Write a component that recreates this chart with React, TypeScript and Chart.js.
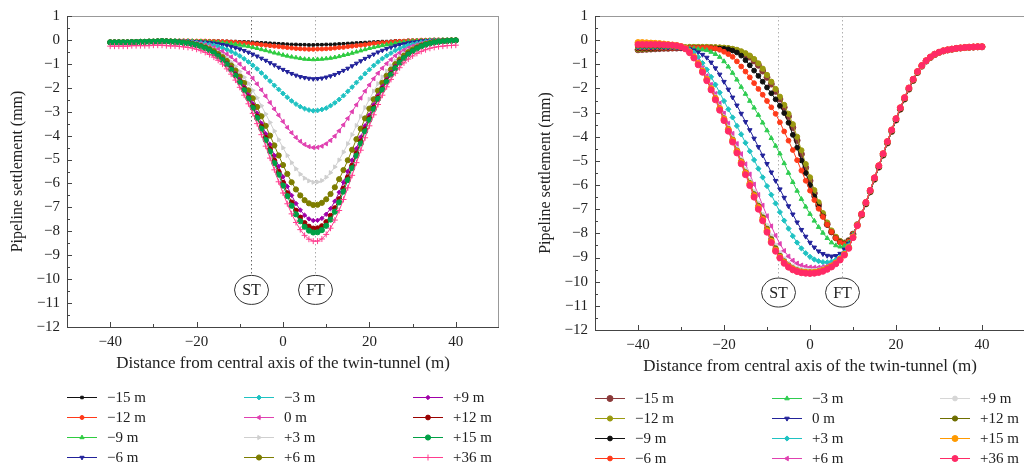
import React, { useEffect, useRef } from 'react';
import { Chart, registerables } from 'chart.js';
import { drawPoint } from 'chart.js/helpers';

Chart.register(...registerables);

const FONT = "'Liberation Serif', 'Times New Roman', serif";

// ---------------- data ----------------
const DISTANCES = [
  -40, -39, -38, -37, -36, -35, -34, -33, -32, -31, -30, -29, -28, -27, -26, -25, -24, -23, -22, -21,
  -20, -19, -18, -17, -16, -15, -14, -13, -12, -11, -10, -9, -8, -7, -6, -5, -4, -3, -2, -1,
  0, 1, 2, 3, 4, 5, 6, 7, 8, 9, 10, 11, 12, 13, 14, 15, 16, 17, 18, 19,
  20, 21, 22, 23, 24, 25, 26, 27, 28, 29, 30, 31, 32, 33, 34, 35, 36, 37, 38, 39, 40,
];

const SERIES_LABELS = ['−15 m', '−12 m', '−9 m', '−6 m', '−3 m', '0 m', '+3 m', '+6 m', '+9 m', '+12 m', '+15 m', '+36 m'];

const X_TICKS = [-40, -20, 0, 20, 40];
const X_MINOR_TICKS = [-30, -10, 10, 30];
const Y_TICKS = [1, 0, -1, -2, -3, -4, -5, -6, -7, -8, -9, -10, -11, -12];
const TUNNEL_AXES = [-7.5, 7.5];
const TUNNEL_NAMES = ['ST', 'FT'];

// Left panel series
const L_M15 = [
  -0.10, -0.10, -0.10, -0.10, -0.10, -0.09, -0.09, -0.08, -0.08, -0.07, -0.07, -0.06, -0.05,
  -0.04, -0.04, -0.04, -0.04, -0.04, -0.04, -0.04, -0.04, -0.05, -0.05,
  -0.05, -0.05, -0.05, -0.06, -0.06, -0.07, -0.07, -0.08, -0.08, -0.09,
  -0.10, -0.11, -0.12, -0.13, -0.14, -0.15, -0.16, -0.17, -0.18, -0.19,
  -0.19, -0.20, -0.20, -0.21, -0.21,
  -0.20, -0.20, -0.19, -0.19, -0.18, -0.17, -0.16, -0.15, -0.14, -0.13,
  -0.12, -0.11, -0.10, -0.09, -0.08, -0.07, -0.07, -0.06, -0.04, -0.04,
  -0.04, -0.02, -0.02, -0.02, -0.01, 0, 0, 0, 0, 0, 0, 0, 0,
];
const L_M12 = [
  -0.10, -0.10, -0.10, -0.10, -0.10, -0.09, -0.09, -0.08, -0.08, -0.07, -0.07, -0.06, -0.05,
  -0.04, -0.04, -0.04, -0.04, -0.04, -0.04, -0.05, -0.05, -0.05, -0.05,
  -0.06, -0.06, -0.07, -0.07, -0.08, -0.09, -0.10, -0.12, -0.13, -0.15,
  -0.16, -0.18, -0.20, -0.22, -0.24, -0.26, -0.28, -0.30, -0.32, -0.34,
  -0.36, -0.37, -0.38, -0.39, -0.39,
  -0.38, -0.38, -0.37, -0.36, -0.34, -0.32, -0.31, -0.28, -0.26, -0.24,
  -0.22, -0.20, -0.17, -0.15, -0.14, -0.12, -0.11, -0.09, -0.07, -0.06,
  -0.05, -0.04, -0.03, -0.03, -0.01, -0.01, -0.01, 0, 0, 0, 0, 0, 0,
];
const L_M9 = [
  -0.10, -0.10, -0.10, -0.10, -0.10, -0.09, -0.09, -0.08, -0.08, -0.07, -0.07, -0.06, -0.05,
  -0.04, -0.04, -0.04, -0.05, -0.05, -0.05, -0.05, -0.06, -0.06, -0.07,
  -0.08, -0.09, -0.10, -0.12, -0.14, -0.16, -0.18, -0.21, -0.24, -0.27,
  -0.31, -0.35, -0.40, -0.44, -0.49, -0.54, -0.58, -0.63, -0.67, -0.71,
  -0.74, -0.77, -0.80, -0.81, -0.82,
  -0.81, -0.80, -0.78, -0.76, -0.73, -0.69, -0.64, -0.60, -0.55, -0.50,
  -0.45, -0.40, -0.35, -0.31, -0.27, -0.23, -0.20, -0.17, -0.13, -0.11,
  -0.09, -0.07, -0.05, -0.04, -0.03, -0.02, -0.01, -0.01, -0.01, 0, 0, 0, 0,
];
const L_M6 = [
  -0.10, -0.10, -0.10, -0.10, -0.10, -0.09, -0.09, -0.08, -0.08, -0.07, -0.07, -0.06, -0.05,
  -0.04, -0.05, -0.05, -0.05, -0.06, -0.06, -0.07, -0.08, -0.09, -0.10,
  -0.12, -0.14, -0.17, -0.20, -0.23, -0.28, -0.33, -0.38, -0.45, -0.52,
  -0.60, -0.68, -0.77, -0.86, -0.96, -1.05, -1.15, -1.24, -1.33, -1.41,
  -1.48, -1.54, -1.58, -1.61, -1.63,
  -1.62, -1.60, -1.56, -1.51, -1.45, -1.37, -1.28, -1.19, -1.09, -0.98,
  -0.88, -0.78, -0.69, -0.60, -0.51, -0.44, -0.37, -0.31, -0.25, -0.20,
  -0.17, -0.13, -0.10, -0.08, -0.05, -0.04, -0.03, -0.02, -0.02, -0.01, -0.01, -0.01, 0,
];
const L_M3 = [
  -0.10, -0.10, -0.10, -0.10, -0.10, -0.09, -0.09, -0.08, -0.08, -0.07, -0.07, -0.06, -0.05,
  -0.05, -0.05, -0.05, -0.06, -0.07, -0.08, -0.09, -0.11, -0.13, -0.15,
  -0.19, -0.22, -0.27, -0.33, -0.40, -0.48, -0.57, -0.67, -0.79, -0.92,
  -1.06, -1.21, -1.38, -1.55, -1.72, -1.90, -2.07, -2.24, -2.40, -2.55,
  -2.68, -2.79, -2.87, -2.93, -2.96,
  -2.95, -2.91, -2.85, -2.75, -2.63, -2.49, -2.33, -2.15, -1.97, -1.78,
  -1.59, -1.41, -1.24, -1.07, -0.92, -0.78, -0.66, -0.55, -0.44, -0.36,
  -0.29, -0.22, -0.18, -0.14, -0.10, -0.07, -0.05, -0.04, -0.03, -0.02, -0.02, -0.01, -0.01,
];
const L_0 = [
  -0.10, -0.10, -0.10, -0.10, -0.10, -0.09, -0.09, -0.08, -0.08, -0.07, -0.07, -0.06, -0.05,
  -0.05, -0.06, -0.06, -0.07, -0.08, -0.10, -0.12, -0.14, -0.17, -0.21,
  -0.26, -0.32, -0.40, -0.48, -0.59, -0.71, -0.85, -1.01, -1.19, -1.38,
  -1.60, -1.84, -2.09, -2.35, -2.62, -2.89, -3.15, -3.41, -3.66, -3.88,
  -4.08, -4.24, -4.37, -4.46, -4.50,
  -4.49, -4.44, -4.34, -4.20, -4.02, -3.80, -3.55, -3.28, -3.00, -2.71,
  -2.43, -2.14, -1.88, -1.62, -1.39, -1.18, -0.99, -0.82, -0.66, -0.54,
  -0.43, -0.34, -0.26, -0.21, -0.15, -0.11, -0.08, -0.06, -0.05, -0.03, -0.02, -0.02, -0.01,
];
const L_P3 = [
  -0.10, -0.10, -0.10, -0.10, -0.10, -0.09, -0.09, -0.08, -0.08, -0.07, -0.07, -0.06, -0.05,
  -0.06, -0.06, -0.07, -0.08, -0.10, -0.12, -0.14, -0.17, -0.22, -0.27,
  -0.33, -0.41, -0.51, -0.63, -0.76, -0.92, -1.11, -1.32, -1.56, -1.82,
  -2.11, -2.42, -2.75, -3.10, -3.45, -3.81, -4.17, -4.51, -4.83, -5.13,
  -5.39, -5.61, -5.78, -5.89, -5.95,
  -5.94, -5.88, -5.74, -5.55, -5.31, -5.02, -4.69, -4.34, -3.96, -3.58,
  -3.20, -2.83, -2.48, -2.14, -1.83, -1.55, -1.30, -1.08, -0.87, -0.71,
  -0.57, -0.44, -0.35, -0.27, -0.20, -0.15, -0.11, -0.08, -0.06, -0.04, -0.03, -0.02, -0.01,
];
const L_P6 = [
  -0.10, -0.10, -0.10, -0.10, -0.10, -0.09, -0.09, -0.08, -0.08, -0.07, -0.07, -0.06, -0.05,
  -0.06, -0.07, -0.08, -0.09, -0.11, -0.13, -0.16, -0.20, -0.25, -0.31,
  -0.38, -0.47, -0.59, -0.72, -0.88, -1.07, -1.28, -1.53, -1.80, -2.11,
  -2.44, -2.80, -3.19, -3.59, -4.00, -4.41, -4.83, -5.23, -5.60, -5.95,
  -6.25, -6.50, -6.70, -6.83, -6.90,
  -6.89, -6.81, -6.66, -6.44, -6.16, -5.82, -5.44, -5.03, -4.59, -4.15,
  -3.71, -3.28, -2.87, -2.48, -2.12, -1.79, -1.50, -1.24, -1.01, -0.82,
  -0.66, -0.51, -0.40, -0.31, -0.23, -0.17, -0.13, -0.09, -0.07, -0.05, -0.04, -0.02, -0.02,
];
const L_P9 = [
  -0.10, -0.10, -0.10, -0.10, -0.10, -0.09, -0.09, -0.08, -0.08, -0.07, -0.07, -0.06, -0.05,
  -0.06, -0.07, -0.08, -0.09, -0.11, -0.14, -0.17, -0.21, -0.26, -0.33,
  -0.41, -0.52, -0.64, -0.79, -0.96, -1.16, -1.40, -1.67, -1.97, -2.30,
  -2.67, -3.06, -3.48, -3.92, -4.37, -4.83, -5.28, -5.72, -6.13, -6.50,
  -6.84, -7.11, -7.33, -7.48, -7.55,
  -7.54, -7.46, -7.29, -7.05, -6.74, -6.37, -5.95, -5.50, -5.03, -4.54,
  -4.06, -3.59, -3.14, -2.71, -2.32, -1.96, -1.64, -1.36, -1.10, -0.89,
  -0.72, -0.56, -0.44, -0.34, -0.25, -0.19, -0.14, -0.10, -0.08, -0.05, -0.04, -0.03, -0.02,
];
const L_P12 = [
  -0.10, -0.10, -0.10, -0.10, -0.10, -0.09, -0.09, -0.08, -0.08, -0.07, -0.07, -0.06, -0.05,
  -0.06, -0.07, -0.08, -0.10, -0.12, -0.14, -0.18, -0.22, -0.27, -0.34,
  -0.43, -0.54, -0.66, -0.82, -1.00, -1.21, -1.46, -1.74, -2.05, -2.40,
  -2.78, -3.20, -3.63, -4.09, -4.56, -5.04, -5.51, -5.97, -6.40, -6.79,
  -7.13, -7.42, -7.65, -7.80, -7.88,
  -7.87, -7.78, -7.61, -7.35, -7.03, -6.65, -6.21, -5.74, -5.25, -4.74,
  -4.24, -3.74, -3.27, -2.83, -2.42, -2.05, -1.71, -1.42, -1.15, -0.93,
  -0.75, -0.58, -0.46, -0.35, -0.26, -0.20, -0.15, -0.11, -0.08, -0.06, -0.04, -0.03, -0.02,
];
const L_P15 = [
  -0.10, -0.10, -0.10, -0.10, -0.10, -0.09, -0.09, -0.08, -0.08, -0.07, -0.07, -0.06, -0.05,
  -0.06, -0.07, -0.08, -0.10, -0.12, -0.14, -0.18, -0.22, -0.28, -0.35,
  -0.44, -0.55, -0.68, -0.83, -1.02, -1.24, -1.49, -1.77, -2.10, -2.45,
  -2.84, -3.26, -3.71, -4.18, -4.66, -5.15, -5.63, -6.09, -6.53, -6.93,
  -7.29, -7.58, -7.81, -7.97, -8.05,
  -8.04, -7.95, -7.77, -7.51, -7.18, -6.79, -6.34, -5.86, -5.36, -4.84,
  -4.33, -3.82, -3.34, -2.89, -2.47, -2.09, -1.75, -1.45, -1.18, -0.95,
  -0.76, -0.60, -0.47, -0.36, -0.27, -0.20, -0.15, -0.11, -0.08, -0.06, -0.04, -0.03, -0.02,
];
const L_P36 = [
  -0.26, -0.26, -0.26, -0.26, -0.26, -0.24, -0.24, -0.24, -0.24, -0.24, -0.22, -0.22, -0.22,
  -0.24, -0.25, -0.25, -0.27, -0.29, -0.31, -0.34, -0.39, -0.45, -0.52,
  -0.61, -0.72, -0.85, -1.01, -1.21, -1.43, -1.68, -1.98, -2.31, -2.67,
  -3.07, -3.50, -3.96, -4.44, -4.94, -5.43, -5.93, -6.40, -6.85, -7.27,
  -7.63, -7.93, -8.17, -8.33, -8.41,
  -8.41, -8.32, -8.13, -7.87, -7.53, -7.13, -6.67, -6.18, -5.66, -5.13,
  -4.61, -4.09, -3.59, -3.13, -2.70, -2.31, -1.96, -1.65, -1.39, -1.16,
  -0.96, -0.80, -0.67, -0.56, -0.48, -0.41, -0.35, -0.31, -0.28, -0.26, -0.24, -0.23, -0.22,
];

// Right panel series
const R_M15 = [
  -0.40, -0.39, -0.38, -0.37, -0.36,
  -0.35, -0.34, -0.34, -0.33, -0.33, -0.32, -0.32, -0.31, -0.31, -0.31,
  -0.31, -0.31, -0.31, -0.32, -0.33, -0.34, -0.36, -0.39, -0.44, -0.51,
  -0.60, -0.70, -0.86, -1.04, -1.28, -1.54, -1.82, -2.12, -2.44, -2.78,
  -3.16, -3.62, -4.15, -4.72, -5.28, -5.82, -6.34, -6.82, -7.25, -7.62,
  -7.94, -8.18, -8.34, -8.40, -8.30, -8.03, -7.64,
  -7.24, -6.78, -6.28, -5.76, -5.26, -4.76, -4.26, -3.78, -3.31, -2.86,
  -2.44, -2.03, -1.67, -1.34, -1.08, -0.87, -0.72, -0.60, -0.51, -0.45,
  -0.41, -0.38, -0.35, -0.33, -0.31, -0.30, -0.29, -0.28, -0.28,
];
const R_M12 = [
  -0.38, -0.37, -0.36, -0.35, -0.34,
  -0.33, -0.32, -0.31, -0.30, -0.30, -0.29, -0.29, -0.28, -0.28, -0.28,
  -0.28, -0.28, -0.29, -0.29, -0.30, -0.31, -0.33, -0.36, -0.40, -0.46,
  -0.54, -0.64, -0.78, -0.96, -1.18, -1.44, -1.72, -2.02, -2.34, -2.68,
  -3.05, -3.48, -4.00, -4.56, -5.13, -5.68, -6.21, -6.71, -7.16, -7.55,
  -7.88, -8.14, -8.32, -8.40, -8.31, -8.04, -7.64,
  -7.24, -6.78, -6.28, -5.76, -5.26, -4.76, -4.26, -3.78, -3.31, -2.86,
  -2.44, -2.03, -1.67, -1.34, -1.08, -0.87, -0.72, -0.60, -0.51, -0.45,
  -0.41, -0.38, -0.35, -0.33, -0.31, -0.30, -0.29, -0.28, -0.28,
];
const R_M9 = [
  -0.35, -0.35, -0.35, -0.35, -0.34,
  -0.34, -0.33, -0.33, -0.32, -0.32, -0.32, -0.32, -0.32, -0.32, -0.32,
  -0.32, -0.33, -0.33, -0.34, -0.35, -0.36, -0.38, -0.43, -0.51, -0.64,
  -0.83, -1.04, -1.26, -1.48, -1.72, -1.96, -2.20, -2.45, -2.72, -3.02,
  -3.42, -3.92, -4.45, -4.98, -5.50, -6.00, -6.47, -6.91, -7.30, -7.65,
  -7.95, -8.20, -8.36, -8.42, -8.32, -8.05, -7.65,
  -7.24, -6.78, -6.28, -5.76, -5.26, -4.76, -4.26, -3.78, -3.31, -2.86,
  -2.44, -2.03, -1.67, -1.34, -1.08, -0.87, -0.72, -0.60, -0.51, -0.45,
  -0.41, -0.38, -0.35, -0.33, -0.31, -0.30, -0.29, -0.28, -0.28,
];
const R_M6 = [
  -0.32, -0.32, -0.32, -0.32, -0.32,
  -0.32, -0.32, -0.32, -0.32, -0.32, -0.32, -0.32, -0.32, -0.32, -0.32,
  -0.32, -0.32, -0.33, -0.35, -0.40, -0.48, -0.58, -0.69, -0.88, -1.09,
  -1.30, -1.54, -1.78, -2.02, -2.26, -2.52, -2.78, -3.05, -3.40, -3.78,
  -4.16, -4.55, -4.97, -5.40, -5.82, -6.23, -6.62, -6.98, -7.32, -7.64,
  -7.94, -8.20, -8.38, -8.44, -8.34, -8.05, -7.65,
  -7.20, -6.72, -6.22, -5.70, -5.20, -4.70, -4.20, -3.72, -3.25, -2.80,
  -2.38, -1.98, -1.62, -1.30, -1.05, -0.85, -0.70, -0.58, -0.50, -0.44,
  -0.40, -0.37, -0.34, -0.32, -0.30, -0.29, -0.28, -0.27, -0.27,
];
const R_M3 = [
  -0.30, -0.30, -0.30, -0.30, -0.30,
  -0.30, -0.30, -0.30, -0.30, -0.31, -0.32, -0.33, -0.34, -0.35, -0.37,
  -0.39, -0.42, -0.49, -0.58, -0.70, -0.88, -1.10, -1.36, -1.64, -1.94,
  -2.23, -2.52, -2.80, -3.10, -3.42, -3.74, -4.06, -4.38, -4.70, -5.10,
  -5.50, -5.88, -6.24, -6.58, -6.90, -7.20, -7.48, -7.74, -7.98, -8.20,
  -8.38, -8.50, -8.55, -8.52, -8.38, -8.06, -7.65,
  -7.20, -6.72, -6.22, -5.70, -5.20, -4.70, -4.20, -3.72, -3.25, -2.80,
  -2.38, -1.98, -1.62, -1.30, -1.05, -0.85, -0.70, -0.58, -0.50, -0.44,
  -0.40, -0.37, -0.34, -0.32, -0.30, -0.29, -0.28, -0.27, -0.27,
];
const R_0 = [
  -0.30, -0.30, -0.30, -0.30, -0.30,
  -0.30, -0.30, -0.30, -0.30, -0.31, -0.32, -0.34, -0.37, -0.42, -0.50,
  -0.60, -0.72, -0.92, -1.16, -1.42, -1.72, -2.04, -2.37, -2.70, -3.04,
  -3.38, -3.72, -4.07, -4.42, -4.77, -5.12, -5.47, -5.82, -6.17, -6.52,
  -6.87, -7.21, -7.54, -7.85, -8.13, -8.38, -8.58, -8.74, -8.85, -8.92,
  -8.95, -8.93, -8.84, -8.66, -8.42, -8.07, -7.65,
  -7.20, -6.72, -6.22, -5.70, -5.20, -4.70, -4.20, -3.72, -3.25, -2.80,
  -2.38, -1.98, -1.62, -1.30, -1.05, -0.85, -0.70, -0.58, -0.50, -0.44,
  -0.40, -0.37, -0.34, -0.32, -0.30, -0.29, -0.28, -0.27, -0.27,
];
const R_P3 = [
  -0.25, -0.25, -0.25, -0.24, -0.24,
  -0.24, -0.24, -0.24, -0.25, -0.27, -0.30, -0.35, -0.42, -0.52, -0.70,
  -0.95, -1.22, -1.52, -1.84, -2.17, -2.52, -2.86, -3.20, -3.55, -3.90,
  -4.25, -4.60, -4.96, -5.32, -5.68, -6.04, -6.40, -6.76, -7.12, -7.47,
  -7.80, -8.11, -8.38, -8.62, -8.82, -8.97, -9.08, -9.15, -9.19, -9.20,
  -9.17, -9.10, -8.98, -8.80, -8.50, -8.10, -7.65,
  -7.20, -6.72, -6.22, -5.70, -5.20, -4.70, -4.20, -3.72, -3.25, -2.80,
  -2.38, -1.98, -1.62, -1.30, -1.05, -0.85, -0.70, -0.58, -0.50, -0.44,
  -0.40, -0.37, -0.34, -0.32, -0.30, -0.29, -0.28, -0.27, -0.27,
];
const R_P6 = [
  -0.20, -0.20, -0.20, -0.20, -0.20,
  -0.20, -0.20, -0.21, -0.22, -0.24, -0.28, -0.34, -0.46, -0.64, -0.88,
  -1.16, -1.48, -1.84, -2.22, -2.62, -3.03, -3.45, -3.87, -4.29, -4.71,
  -5.13, -5.55, -5.97, -6.40, -6.84, -7.28, -7.70, -8.09, -8.43, -8.72,
  -8.95, -9.12, -9.24, -9.32, -9.37, -9.40, -9.41, -9.41, -9.39, -9.35,
  -9.28, -9.18, -9.04, -8.85, -8.56, -8.12, -7.66,
  -7.20, -6.72, -6.22, -5.70, -5.20, -4.70, -4.20, -3.72, -3.25, -2.80,
  -2.38, -1.98, -1.62, -1.30, -1.05, -0.85, -0.70, -0.58, -0.50, -0.44,
  -0.40, -0.37, -0.34, -0.32, -0.30, -0.29, -0.28, -0.27, -0.27,
];
const R_P9 = [
  -0.16, -0.16, -0.17, -0.17, -0.18,
  -0.18, -0.19, -0.20, -0.21, -0.23, -0.27, -0.35, -0.50, -0.70, -0.96,
  -1.26, -1.60, -1.97, -2.36, -2.77, -3.19, -3.62, -4.06, -4.50, -4.94,
  -5.38, -5.83, -6.29, -6.76, -7.23, -7.69, -8.12, -8.50, -8.82, -9.07,
  -9.25, -9.37, -9.45, -9.50, -9.53, -9.55, -9.55, -9.53, -9.49, -9.42,
  -9.33, -9.20, -9.04, -8.84, -8.56, -8.12, -7.66,
  -7.20, -6.72, -6.22, -5.70, -5.20, -4.70, -4.20, -3.72, -3.25, -2.80,
  -2.38, -1.98, -1.62, -1.30, -1.05, -0.85, -0.70, -0.58, -0.50, -0.44,
  -0.40, -0.37, -0.34, -0.32, -0.30, -0.29, -0.28, -0.27, -0.27,
];
const R_P12 = [
  -0.22, -0.22, -0.22, -0.22, -0.22,
  -0.22, -0.22, -0.22, -0.23, -0.24, -0.27, -0.35, -0.50, -0.71, -0.98,
  -1.28, -1.62, -2.00, -2.40, -2.82, -3.24, -3.68, -4.12, -4.57, -5.02,
  -5.47, -5.92, -6.38, -6.86, -7.34, -7.81, -8.24, -8.62, -8.93, -9.16,
  -9.33, -9.45, -9.53, -9.58, -9.60, -9.61, -9.60, -9.57, -9.52, -9.44,
  -9.34, -9.21, -9.05, -8.85, -8.57, -8.13, -7.66,
  -7.20, -6.72, -6.22, -5.70, -5.20, -4.70, -4.20, -3.72, -3.25, -2.80,
  -2.38, -1.98, -1.62, -1.30, -1.05, -0.85, -0.70, -0.58, -0.50, -0.44,
  -0.40, -0.37, -0.34, -0.32, -0.30, -0.29, -0.28, -0.27, -0.27,
];
const R_P15 = [
  -0.10, -0.10, -0.11, -0.12, -0.13,
  -0.14, -0.16, -0.18, -0.20, -0.22, -0.26, -0.34, -0.49, -0.70, -0.97,
  -1.28, -1.63, -2.01, -2.42, -2.84, -3.27, -3.71, -4.16, -4.61, -5.06,
  -5.51, -5.96, -6.44, -6.93, -7.42, -7.89, -8.33, -8.70, -8.99, -9.21,
  -9.37, -9.48, -9.56, -9.60, -9.62, -9.63, -9.62, -9.59, -9.54, -9.46,
  -9.36, -9.23, -9.07, -8.87, -8.59, -8.15, -7.67,
  -7.20, -6.72, -6.22, -5.70, -5.20, -4.70, -4.20, -3.72, -3.25, -2.80,
  -2.38, -1.98, -1.62, -1.30, -1.05, -0.85, -0.70, -0.58, -0.50, -0.44,
  -0.40, -0.37, -0.34, -0.32, -0.30, -0.29, -0.28, -0.27, -0.27,
];
const R_P36 = [
  -0.18, -0.18, -0.18, -0.18, -0.18,
  -0.18, -0.19, -0.20, -0.21, -0.23, -0.27, -0.36, -0.52, -0.74, -1.02,
  -1.33, -1.68, -2.06, -2.47, -2.90, -3.33, -3.77, -4.22, -4.67, -5.12,
  -5.57, -6.02, -6.50, -7.00, -7.48, -7.95, -8.38, -8.74, -9.02, -9.24,
  -9.40, -9.51, -9.58, -9.63, -9.65, -9.66, -9.65, -9.62, -9.57, -9.49,
  -9.39, -9.26, -9.10, -8.90, -8.62, -8.18, -7.68,
  -7.20, -6.72, -6.22, -5.70, -5.20, -4.70, -4.20, -3.72, -3.25, -2.80,
  -2.38, -1.98, -1.62, -1.30, -1.05, -0.85, -0.70, -0.58, -0.50, -0.44,
  -0.40, -0.37, -0.34, -0.32, -0.30, -0.29, -0.28, -0.27, -0.27,
];

const LEFT_SERIES = [L_M15, L_M12, L_M9, L_M6, L_M3, L_0, L_P3, L_P6, L_P9, L_P12, L_P15, L_P36];
const RIGHT_SERIES = [R_M15, R_M12, R_M9, R_M6, R_M3, R_0, R_P3, R_P6, R_P9, R_P12, R_P15, R_P36];

// ---------------- styles ----------------
const LEFT_COLORS = ['#111111', '#ff3a1a', '#2ecc40', '#22229a', '#1fc2c2', '#e040b0', '#cfcfcf', '#7d7d00', '#a000a8', '#9a0000', '#00a046', '#ff3d8f'];
const LEFT_STYLES: [string, number, number][] = [
  ['rect', 0, 1.8], ['circle', 0, 2], ['triangle', 0, 2.4], ['triangle', 180, 2.4], ['rectRot', 0, 2.4], ['triangle', 270, 2.4],
  ['triangle', 90, 2.4], ['circle', 0, 2.6], ['rectRot', 0, 2.2], ['circle', 0, 2.4], ['circle', 0, 2.6], ['cross', 0, 3],
];
const RIGHT_COLORS = ['#8b3a3a', '#9a9a10', '#111111', '#ff3a1a', '#2ecc50', '#22229a', '#1fc2c2', '#e040b0', '#d6d6d6', '#6e6e00', '#ff9a00', '#ff2a66'];
const RIGHT_STYLES: [string, number, number][] = [
  ['circle', 0, 3], ['circle', 0, 2.6], ['circle', 0, 2.4], ['circle', 0, 2.4], ['triangle', 0, 2.6], ['triangle', 180, 2.6],
  ['rectRot', 0, 2.6], ['triangle', 270, 2.6], ['circle', 0, 2.4], ['circle', 0, 2.6], ['circle', 0, 3], ['circle', 0, 3],
];

type Panel = {
  series: number[][];
  colors: string[];
  styles: [string, number, number][];
  width: number;
  padding: { top: number; right: number; bottom: number };
  yWidth: number;
  yTitlePad: number;
  drawRight: boolean;
  stColor: string;
  ftColor: string;
  legendCols: number[];
  legendRows: number[];
};

const LEFT_PANEL: Panel = {
  series: LEFT_SERIES, colors: LEFT_COLORS, styles: LEFT_STYLES, width: 512,
  padding: { top: 11, right: 13, bottom: 91 }, yWidth: 67, yTitlePad: 8, drawRight: true,
  stColor: '#666666', ftColor: '#aaaaaa',
  legendCols: [67, 244, 413], legendRows: [397, 417, 437, 457],
};
const RIGHT_PANEL: Panel = {
  series: RIGHT_SERIES, colors: RIGHT_COLORS, styles: RIGHT_STYLES, width: 518,
  padding: { top: 16, right: 0, bottom: 88 }, yWidth: 83, yTitlePad: 24, drawRight: false,
  stColor: '#b0b0b0', ftColor: '#b0b0b0',
  legendCols: [83, 260, 428], legendRows: [398, 418, 438, 458],
};

const fmt = (v: number) => (v < 0 ? '−' + Math.abs(v) : String(v));

const overlay = {
  id: 'overlay',
  beforeDatasetsDraw(chart: any, _args: any, opts: any) {
    const p: Panel = opts.panel;
    const { ctx, chartArea: a, scales } = chart;
    ctx.save();
    ctx.lineWidth = 1;
    TUNNEL_AXES.forEach((xv, i) => {
      const x = Math.round(scales.x.getPixelForValue(xv)) + 0.5;
      const cy = scales.y.getPixelForValue(-10.45);
      ctx.strokeStyle = i === 0 ? p.stColor : p.ftColor;
      ctx.setLineDash([1.5, 2.5]);
      ctx.beginPath();
      ctx.moveTo(x, a.top);
      ctx.lineTo(x, cy - 14);
      ctx.stroke();
      ctx.setLineDash([]);
      ctx.beginPath();
      ctx.ellipse(x, cy, 17, 14.5, 0, 0, Math.PI * 2);
      ctx.fillStyle = '#ffffff';
      ctx.fill();
      ctx.strokeStyle = '#333333';
      ctx.stroke();
      ctx.fillStyle = '#222222';
      ctx.font = `16px ${FONT}`;
      ctx.textAlign = 'center';
      ctx.textBaseline = 'middle';
      ctx.fillText(TUNNEL_NAMES[i], x, cy + 1);
    });
    ctx.restore();
  },
  afterDraw(chart: any, _args: any, opts: any) {
    const p: Panel = opts.panel;
    const { ctx, chartArea: a, scales } = chart;
    ctx.save();
    ctx.lineWidth = 1;
    // frame
    ctx.strokeStyle = '#999999';
    ctx.beginPath();
    ctx.moveTo(a.left, a.top + 0.5);
    ctx.lineTo(a.right, a.top + 0.5);
    if (p.drawRight) {
      ctx.moveTo(a.right - 0.5, a.top);
      ctx.lineTo(a.right - 0.5, a.bottom);
    }
    ctx.stroke();
    ctx.strokeStyle = '#444444';
    ctx.beginPath();
    ctx.moveTo(a.left + 0.5, a.top);
    ctx.lineTo(a.left + 0.5, a.bottom + 0.5);
    ctx.lineTo(a.right, a.bottom + 0.5);
    ctx.stroke();
    // inward ticks
    ctx.beginPath();
    Y_TICKS.forEach((v) => {
      const y = Math.round(scales.y.getPixelForValue(v)) + 0.5;
      ctx.moveTo(a.left, y);
      ctx.lineTo(a.left + 5, y);
      if (v > -12) {
        const ym = Math.round(scales.y.getPixelForValue(v - 0.5)) + 0.5;
        ctx.moveTo(a.left, ym);
        ctx.lineTo(a.left + 3, ym);
      }
    });
    X_TICKS.forEach((v) => {
      const x = Math.round(scales.x.getPixelForValue(v)) + 0.5;
      ctx.moveTo(x, a.bottom);
      ctx.lineTo(x, a.bottom - 5);
    });
    X_MINOR_TICKS.forEach((v) => {
      const x = Math.round(scales.x.getPixelForValue(v)) + 0.5;
      ctx.moveTo(x, a.bottom);
      ctx.lineTo(x, a.bottom - 3);
    });
    ctx.stroke();
    // legend
    chart.data.datasets.forEach((ds: any, i: number) => {
      const col = Math.floor(i / 4);
      const row = i % 4;
      const x = p.legendCols[col];
      const y = p.legendRows[row];
      ctx.strokeStyle = ds.borderColor;
      ctx.lineWidth = 1;
      ctx.beginPath();
      ctx.moveTo(x, y + 0.5);
      ctx.lineTo(x + 30, y + 0.5);
      ctx.stroke();
      ctx.fillStyle = ds.pointBackgroundColor;
      ctx.strokeStyle = ds.pointBorderColor;
      drawPoint(ctx, { pointStyle: ds.pointStyle, rotation: ds.pointRotation, radius: ds.pointRadius, borderWidth: 1 }, x + 15, y + 0.5);
      ctx.fillStyle = '#222222';
      ctx.font = `15px ${FONT}`;
      ctx.textAlign = 'left';
      ctx.textBaseline = 'middle';
      ctx.fillText(ds.label, x + 40, y + 1);
    });
    ctx.restore();
  },
};

function buildConfig(p: Panel): any {
  const n = p.series.length;
  const datasets = p.series.map((vals, i) => ({
    label: SERIES_LABELS[i],
    data: DISTANCES.map((x, k) => ({ x, y: vals[k] })),
    borderColor: p.colors[i],
    backgroundColor: p.colors[i],
    pointBackgroundColor: p.colors[i],
    pointBorderColor: p.colors[i],
    pointStyle: p.styles[i][0],
    pointRotation: p.styles[i][1],
    pointRadius: p.styles[i][2],
    pointBorderWidth: 1,
    borderWidth: 1,
    tension: 0,
    fill: false,
    order: n - i,
  }));
  const tickFont = { family: FONT, size: 15 };
  return {
    type: 'line',
    data: { datasets },
    options: {
      animation: false,
      responsive: false,
      events: [],
      layout: { padding: { left: 0, top: p.padding.top, right: p.padding.right, bottom: p.padding.bottom } },
      plugins: {
        legend: { display: false },
        tooltip: { enabled: false },
        overlay: { panel: p },
      },
      scales: {
        x: {
          type: 'linear',
          min: -50,
          max: 50,
          afterBuildTicks: (s: any) => { s.ticks = X_TICKS.map((v) => ({ value: v })); },
          afterFit: (s: any) => { s.height = 50; },
          grid: { display: false, drawTicks: false },
          border: { display: false },
          ticks: { padding: 6, color: '#222222', font: tickFont, maxRotation: 0, callback: (v: number) => fmt(v) },
          title: { display: true, text: 'Distance from central axis of the twin-tunnel (m)', color: '#222222', font: { family: FONT, size: 17 }, padding: { top: 4, bottom: 3 } },
        },
        y: {
          type: 'linear',
          min: -12,
          max: 1,
          afterBuildTicks: (s: any) => { s.ticks = Y_TICKS.map((v) => ({ value: v })); },
          afterFit: (s: any) => { s.width = p.yWidth; },
          grid: { display: false, drawTicks: false },
          border: { display: false },
          ticks: { padding: 7, color: '#222222', font: tickFont, callback: (v: number) => fmt(v) },
          title: { display: true, text: 'Pipeline settlement (mm)', color: '#222222', font: { family: FONT, size: 16 }, padding: { top: p.yTitlePad, bottom: 4 } },
        },
      },
    },
    plugins: [overlay],
  };
}

export default function App() {
  const leftRef = useRef<HTMLCanvasElement>(null);
  const rightRef = useRef<HTMLCanvasElement>(null);
  useEffect(() => {
    const c1 = new Chart(leftRef.current as HTMLCanvasElement, buildConfig(LEFT_PANEL));
    const c2 = new Chart(rightRef.current as HTMLCanvasElement, buildConfig(RIGHT_PANEL));
    return () => {
      c1.destroy();
      c2.destroy();
    };
  }, []);
  return (
    <div style={{ position: 'fixed', left: 0, top: 0, width: 1024, height: 468, background: '#ffffff', overflow: 'hidden' }}>
      <canvas ref={leftRef} width={LEFT_PANEL.width} height={468} style={{ position: 'absolute', left: 0, top: 0, width: LEFT_PANEL.width, height: 468 }} />
      <canvas ref={rightRef} width={RIGHT_PANEL.width} height={468} style={{ position: 'absolute', left: 512, top: 0, width: RIGHT_PANEL.width, height: 468 }} />
    </div>
  );
}
